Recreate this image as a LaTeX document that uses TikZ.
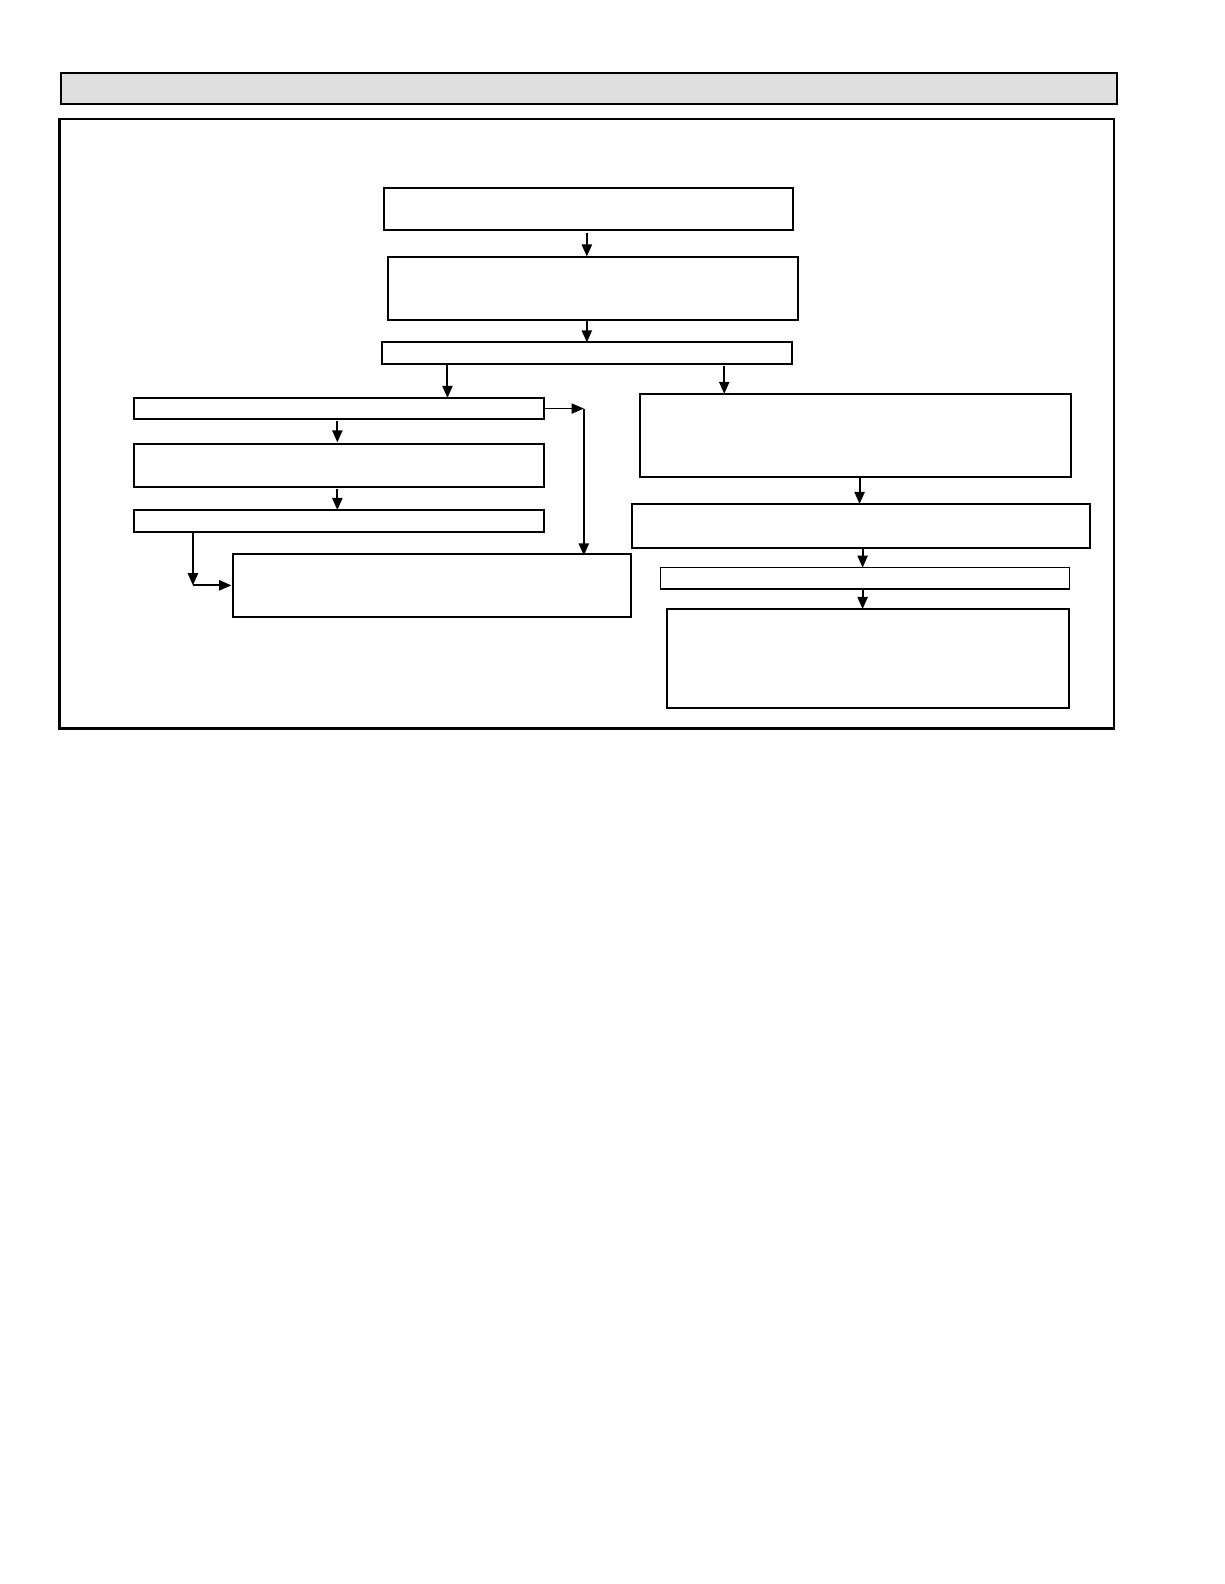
\documentclass[tikz,border=0pt]{standalone}
\usetikzlibrary{arrows.meta}
\begin{document}
\begin{tikzpicture}[x=1pt,y=-1pt,
  boxst/.style={draw,line width=2pt,inner sep=0pt,outer sep=0pt},
  thinbox/.style={draw,line width=1.3pt,inner sep=0pt,outer sep=0pt},
  arr/.style={line width=2pt,-{Triangle[length=12pt,width=10pt]}},
  thinarr/.style={line width=1.1pt,-{Triangle[length=12pt,width=10pt]}}]
\useasboundingbox (0,0) rectangle (1211.8,1568.2);
\fill[white] (0,0) rectangle (1211.8,1568.2);
% header bar and frame
\node[boxst,fill={rgb,255:red,223;green,223;blue,223},line width=2pt,minimum width=1046pt,minimum height=31pt] (hdr) at (583,87.5) {};
\node[boxst,line width=2.5pt,minimum width=1044pt,minimum height=603pt] (frame) at (581,419.5) {};
% top chain
\node[boxst,minimum width=405pt,minimum height=42pt] (B1) at (582.5,207) {};
\node[boxst,minimum width=406pt,minimum height=63pt] (B2) at (587,285.5) {};
\node[boxst,minimum width=406pt,minimum height=21pt] (B3) at (581,349.5) {};
% left chain
\node[boxst,minimum width=406pt,minimum height=21pt] (L1) at (336,404.5) {};
\node[boxst,minimum width=406pt,minimum height=42pt] (L2) at (336,461) {};
\node[boxst,minimum width=406pt,minimum height=22pt] (L3) at (336,516) {};
\node[boxst,minimum width=394pt,minimum height=63pt] (L4) at (428,579.5) {};
% right chain
\node[boxst,minimum width=426pt,minimum height=82pt] (R1) at (847,431) {};
\node[boxst,minimum width=453pt,minimum height=44pt] (R2) at (852.5,521) {};
\node[thinbox,minimum width=405pt,minimum height=21pt] (R3) at (856.5,572.5) {};
\node[boxst,minimum width=398pt,minimum height=98pt] (R4) at (859,652) {};
% x positions of connectors
\coordinate (xa) at (581,0);
\coordinate (xb) at (443,0);
\coordinate (xc) at (717,0);
\coordinate (xd) at (334,0);
\coordinate (xe) at (851,0);
\coordinate (xf) at (854,0);
\coordinate (k) at (578,404.5);
\coordinate (m) at (191,579.5);
% connectors
\draw[arr] ([yshift=-3pt]B1.south -| xa) -- (B2.north -| xa);
\draw[arr] (B2.south -| xa) -- (B3.north -| xa);
\draw[arr] (B3.south -| xb) -- (L1.north -| xb);
\draw[arr] ([yshift=-2pt]B3.south -| xc) -- (R1.north -| xc);
\draw[arr] ([yshift=-2pt]L1.south -| xd) -- ([yshift=2pt]L2.north -| xd);
\draw[arr] ([yshift=-2pt]L2.south -| xd) -- (L3.north -| xd);
\draw[thinarr] (L1.east) -- (k);
\draw[arr] (k) -- ([yshift=-2pt]L4.north -| k);
\draw[arr] (L3.south -| m) -- (m);
\draw[arr] (m) -- ([xshift=-2pt]L4.west);
\draw[arr] (R1.south -| xe) -- (R2.north -| xe);
\draw[arr] (R2.south -| xf) -- (R3.north -| xf);
\draw[arr] (R3.south -| xf) -- (R4.north -| xf);
\end{tikzpicture}
\end{document}
